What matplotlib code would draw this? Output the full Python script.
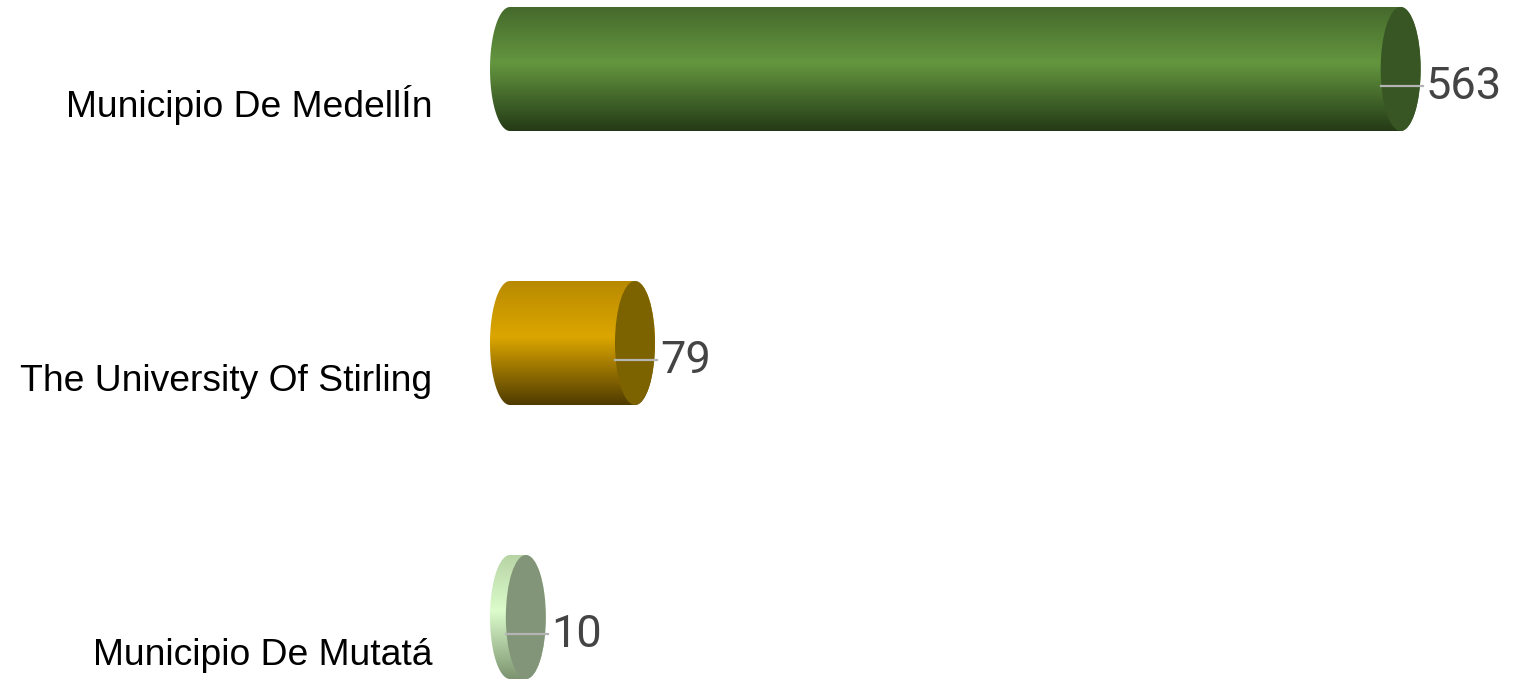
import numpy as np
import matplotlib
matplotlib.use("Agg")
import matplotlib.pyplot as plt
from matplotlib.patches import Ellipse, PathPatch
from matplotlib.path import Path
from matplotlib.colors import LinearSegmentedColormap

# Data
categories = ["Municipio De MedellÍn", "The University Of Stirling", "Municipio De Mutatá"]
values = [563, 79, 10]

# gradient stops (top, middle, bottom) for each cylinder body, plus end-cap colour
body_stops = [
    ["#456a2c", "#64963f", "#243a16"],
    ["#b88a00", "#dca600", "#4f3b00"],
    ["#b7d4a5", "#dcfccc", "#7c9470"],
]
cap_colors = ["#385524", "#7d6300", "#829579"]

# Layout (pixel based)
W, H = 1522, 680
px_per_unit = 1.582
x0_px = 510
row_px = 274
y0_px = 69

fig = plt.figure(figsize=(W / 100, H / 100), dpi=100)
ax = fig.add_axes([0, 0, 1, 1])
ax.axis("off")

xlim = (-x0_px / px_per_unit, (W - x0_px) / px_per_unit)
ylim = ((H - y0_px) / row_px, -y0_px / row_px)

half_h = 62 / row_px
cap_a = 20 / px_per_unit

for i, (cat, v) in enumerate(zip(categories, values)):
    yc = i
    # body outline: left half ellipse at 0, right half ellipse at v
    t1 = np.linspace(np.pi / 2, 3 * np.pi / 2, 60)
    t2 = np.linspace(-np.pi / 2, np.pi / 2, 60)
    xs = np.concatenate([cap_a * np.cos(t1), v + cap_a * np.cos(t2)])
    ys = np.concatenate([yc + half_h * np.sin(t1), yc + half_h * np.sin(t2)])
    verts = np.column_stack([xs, ys])
    path = Path(np.vstack([verts, verts[:1]]), closed=True)
    patch = PathPatch(path, facecolor="none", edgecolor="none")
    ax.add_patch(patch)

    cmap = LinearSegmentedColormap.from_list(f"c{i}", list(zip([0, 0.45, 1], body_stops[i])))
    grad = np.linspace(0, 1, 256).reshape(-1, 1)
    im = ax.imshow(grad, cmap=cmap, aspect="auto", origin="upper",
                   extent=(-cap_a, v + cap_a, yc + half_h, yc - half_h),
                   interpolation="bilinear")
    im.set_clip_path(patch)

    cap = Ellipse((v, yc), 2 * cap_a, 2 * half_h, facecolor=cap_colors[i], edgecolor="none")
    ax.add_patch(cap)

    # leader line and value label
    ly = yc + 17 / row_px
    ax.plot([v - cap_a, v + cap_a + 2 / px_per_unit], [ly, ly], color="#b4b4b4", lw=1.6)
    ax.text(v + 25 / px_per_unit, yc + 18 / row_px, str(v), ha="left", va="center",
            fontsize=32.5, color="#444444", family="Roboto")

    # category label
    ax.text(-78 / px_per_unit, yc + 48 / row_px, cat, ha="right", va="baseline",
            fontsize=26.8, color="#000000", family="Liberation Sans")

ax.set_xlim(xlim)
ax.set_ylim(ylim)

fig.savefig("out.png", dpi=100)
